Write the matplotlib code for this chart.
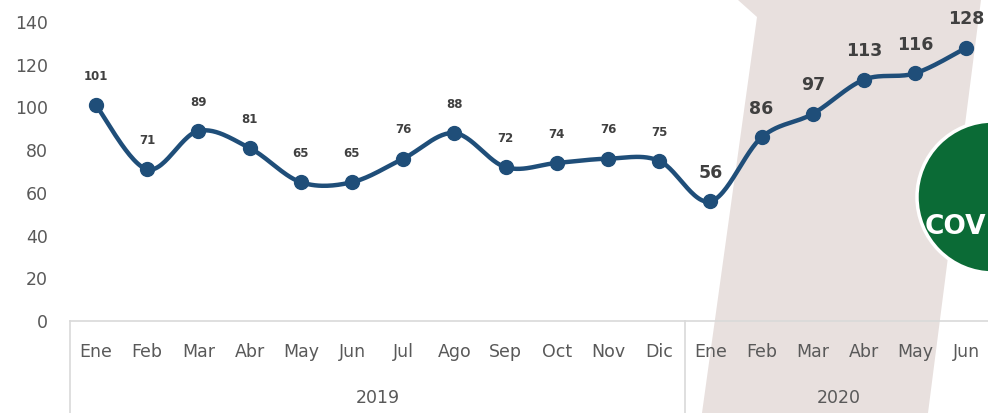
import matplotlib.pyplot as plt
import matplotlib.patches as mpatches
import numpy as np

# Monthly values
months = ["Ene", "Feb", "Mar", "Abr", "May", "Jun", "Jul", "Ago", "Sep", "Oct", "Nov", "Dic",
          "Ene", "Feb", "Mar", "Abr", "May", "Jun"]
values = [101, 71, 89, 81, 65, 65, 76, 88, 72, 74, 76, 75,
          56, 86, 97, 113, 116, 128]
years = ["2019", "2020"]
year_sizes = [12, 6]
y_ticks = [0, 20, 40, 60, 80, 100, 120, 140]

LINE = "#1F4E79"
TEXT = "#595959"
LABEL = "#404040"
BAND = "#E8E0DE"
GREEN = "#0B6B36"

W, H = 988, 413


def smooth(xs, ys, n=30):
    """Excel-like smoothed line (Catmull-Rom as cubic Bezier)."""
    p = np.column_stack([xs, ys]).astype(float)
    ext = np.vstack([p[0], p, p[-1]])
    out = []
    t = np.linspace(0, 1, n)[:, None]
    for i in range(len(p) - 1):
        p0, p1, p2, p3 = ext[i], ext[i + 1], ext[i + 2], ext[i + 3]
        c1 = p1 + (p2 - p0) / 6
        c2 = p2 - (p3 - p1) / 6
        seg = ((1 - t) ** 3) * p1 + 3 * ((1 - t) ** 2) * t * c1 + 3 * (1 - t) * t ** 2 * c2 + t ** 3 * p2
        out.append(seg if i == 0 else seg[1:])
    out = np.vstack(out)
    return out[:, 0], out[:, 1]


fig = plt.figure(figsize=(W / 100, H / 100), dpi=100)
fig.patch.set_facecolor("white")

# diagonal shaded band (figure pixel coords)
band_px = [(738, 0), (757, 17), (702, 413), (928, 413), (981, 0)]
band = mpatches.Polygon([(x / W, 1 - y / H) for x, y in band_px], closed=True,
                        transform=fig.transFigure, facecolor=BAND, edgecolor="none", zorder=-1)
fig.add_artist(band)

step = 51.2
left = 96 - step / 2
ax = fig.add_axes([left / W, 92 / H, 18 * step / W, 299 / H])
ax.patch.set_visible(False)

x = np.arange(len(values))
sx, sy = smooth(x, values)
ax.plot(sx, sy, color=LINE, lw=3.2, solid_capstyle="round", zorder=3)
ax.plot(x, values, "o", color=LINE, ms=10, zorder=4)

for i, v in enumerate(values):
    if i < 12:
        ax.annotate(str(v), (i, v), xytext=(0, 16), textcoords="offset points",
                    ha="center", va="bottom", fontsize=8.5, fontweight="bold", color=LABEL)
    else:
        ax.annotate(str(v), (i, v), xytext=(0, 14), textcoords="offset points",
                    ha="center", va="bottom", fontsize=12.5, fontweight="bold", color=LABEL)

ax.set_xlim(-0.5, len(values) - 0.5)
ax.set_ylim(0, 140)
ax.set_yticks(y_ticks)
ax.tick_params(axis="y", length=0, pad=16, labelsize=12.5, labelcolor=TEXT)
ax.set_xticks([])
for s in ["top", "right", "left"]:
    ax.spines[s].set_visible(False)
ax.spines["bottom"].set_color("#D9D9D9")
ax.spines["bottom"].set_linewidth(1.2)

# two-level category axis
tr = ax.get_xaxis_transform()
for i, m in enumerate(months):
    ax.text(i, -31 / 299, m, transform=tr, ha="center", va="center",
            fontsize=12.5, color=TEXT, clip_on=False)
start = 0
bottom = -92 / 299
ax.plot([-0.5, -0.5], [0, bottom], transform=tr, color="#D9D9D9", lw=1.2, clip_on=False)
for yr, n in zip(years, year_sizes):
    ax.text(start + (n - 1) / 2, -77 / 299, yr, transform=tr, ha="center", va="center",
            fontsize=12.5, color=TEXT, clip_on=False)
    start += n
    ax.plot([start - 0.5, start - 0.5], [0, bottom], transform=tr, color="#D9D9D9",
            lw=1.2, clip_on=False)

# COVID badge, cut off at the right edge
cx, cy, r = 993, 197, 76
circ = mpatches.Ellipse((cx / W, 1 - cy / H), 2 * r / W, 2 * r / H, transform=fig.transFigure,
                        facecolor=GREEN, edgecolor="white", linewidth=2.5, zorder=5)
fig.add_artist(circ)
fig.text(986 / W, 1 - 227 / H, "COV", color="white", fontsize=19, fontweight="bold",
         ha="right", va="center", zorder=6)

plt.savefig("out.png", dpi=100)
